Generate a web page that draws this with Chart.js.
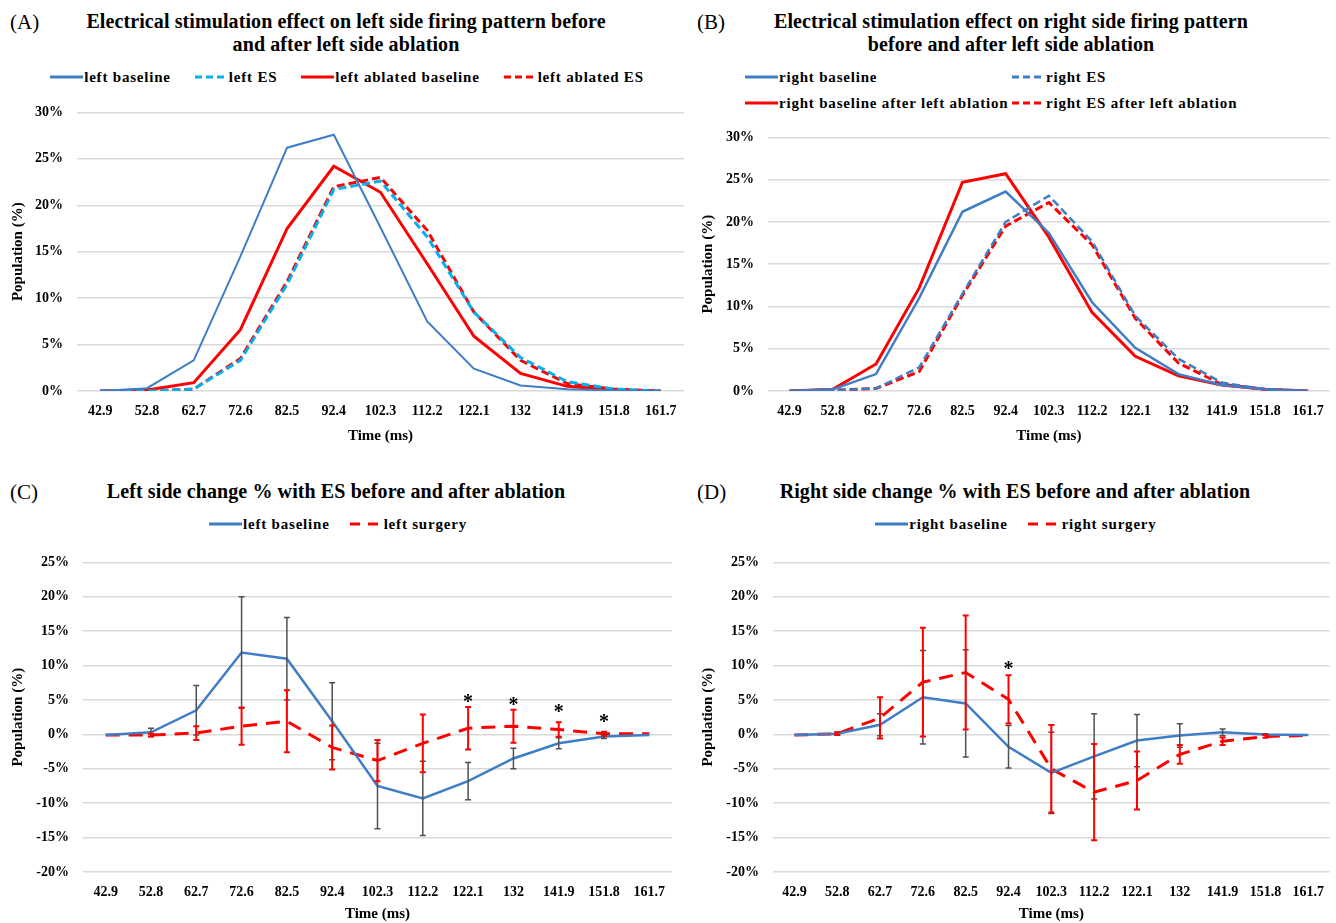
<!DOCTYPE html>
<html><head><meta charset="utf-8">
<script src="https://cdn.jsdelivr.net/npm/chart.js@4/dist/chart.umd.min.js"></script>
<style>
html,body{margin:0;padding:0;background:#fff;}
body{width:1336px;height:923px;position:relative;overflow:hidden;font-family:"Liberation Serif","Times New Roman",serif;color:#000;}
.tag{position:absolute;font-size:21px;line-height:24px;}
.title{position:absolute;font-weight:bold;font-size:20px;letter-spacing:0.1px;line-height:23px;text-align:center;white-space:nowrap;}
.legend{position:absolute;font-weight:bold;font-size:15px;letter-spacing:0.8px;line-height:26px;white-space:nowrap;}
.legend .item{display:inline-flex;align-items:center;}
.legend svg{display:block;margin-right:1px;}
.flexleg{display:flex;justify-content:center;}
.gridleg{display:grid;grid-template-columns:267px auto;}
.box{position:absolute;}
</style>
</head><body>

<div class="tag" style="left:10px;top:10px;">(A)</div>
<div class="title" style="left:46px;top:10px;width:600px;">Electrical stimulation effect on left side firing pattern before<br>and after left side ablation</div>
<div class="legend flexleg" id="legA" style="left:30px;top:64px;width:634px;gap:24px;"></div>
<div class="box" style="left:0;top:90px;width:690px;height:362px;"><canvas id="cA" width="690" height="362"></canvas></div>

<div class="tag" style="left:697px;top:10px;">(B)</div>
<div class="title" style="left:711px;top:10px;width:600px;">Electrical stimulation effect on right side firing pattern<br>before and after left side ablation</div>
<div class="legend gridleg" id="legB" style="left:745px;top:64px;"></div>
<div class="box" style="left:690px;top:115px;width:646px;height:337px;"><canvas id="cB" width="646" height="337"></canvas></div>

<div class="tag" style="left:10px;top:480px;">(C)</div>
<div class="title" style="left:36px;top:480px;width:600px;">Left side change % with ES before and after ablation</div>
<div class="legend flexleg" id="legC" style="left:138px;top:511px;width:400px;gap:20px;"></div>
<div class="box" style="left:0;top:540px;width:690px;height:383px;"><canvas id="cC" width="690" height="383"></canvas></div>

<div class="tag" style="left:697px;top:480px;">(D)</div>
<div class="title" style="left:715px;top:480px;width:600px;">Right side change % with ES before and after ablation</div>
<div class="legend flexleg" id="legD" style="left:816px;top:511px;width:400px;gap:20px;"></div>
<div class="box" style="left:690px;top:540px;width:646px;height:383px;"><canvas id="cD" width="646" height="383"></canvas></div>

<script>
// ---- categories ----
const timeLabels = ['42.9','52.8','62.7','72.6','82.5','92.4','102.3','112.2','122.1','132','141.9','151.8','161.7'];

// ---- Panel A: left side firing pattern (%) ----
const leftBaseline        = [0, 0.3, 3.3, 14.5, 26.2, 27.6, 17.6, 7.5, 2.4, 0.6, 0.2, 0.05, 0];
const leftES              = [0, 0, 0.2, 3.3, 11.5, 21.7, 22.6, 16.6, 8.5, 3.6, 1.0, 0.2, 0];
const leftAblatedBaseline = [0, 0.1, 0.9, 6.6, 17.5, 24.2, 21.4, 13.7, 5.9, 1.9, 0.5, 0.1, 0];
const leftAblatedES       = [0, 0, 0.2, 3.5, 11.8, 22.0, 23.0, 17.3, 8.5, 3.3, 0.8, 0.2, 0];

// ---- Panel B: right side firing pattern (%) ----
const rightBaseline          = [0, 0.2, 2.0, 11.0, 21.2, 23.6, 18.7, 10.5, 5.1, 2.0, 0.7, 0.2, 0];
const rightES                = [0, 0.1, 0.3, 2.8, 11.5, 20.0, 23.1, 17.7, 8.9, 3.8, 1.0, 0.2, 0];
const rightBaselineAfterAbl  = [0, 0.2, 3.2, 12.2, 24.7, 25.7, 18.2, 9.3, 4.1, 1.8, 0.7, 0.2, 0];
const rightESAfterAbl        = [0, 0.1, 0.3, 2.3, 11.3, 19.5, 22.3, 17.3, 8.6, 3.3, 0.8, 0.2, 0];

// ---- Panel C: left side change % with ES ----
const cBaseline     = [-0.1, 0.3, 3.5, 11.9, 11.0, 1.9, -7.5, -9.3, -6.8, -3.5, -1.3, -0.3, -0.1];
const cBaselineErr  = [0, 0.6, 3.6, 8.1, 6.0, 5.6, 6.2, 5.4, 2.7, 1.5, 0.8, 0.3, 0];
const cSurgery      = [-0.1, -0.1, 0.2, 1.2, 1.9, -1.9, -3.8, -1.3, 0.9, 1.2, 0.7, 0.1, 0.1];
const cSurgeryErr   = [0, 0.2, 1.0, 2.7, 4.5, 3.2, 3.0, 4.2, 3.1, 2.4, 1.05, 0.3, 0];
const cSignificance = [null, null, null, null, null, null, null, null, 5.1, 4.7, 3.7, 2.3, null];

// ---- Panel D: right side change % with ES ----
const dBaseline     = [-0.1, 0.1, 1.4, 5.4, 4.5, -1.8, -5.6, -3.2, -0.9, -0.15, 0.3, 0, -0.1];
const dBaselineErr  = [0, 0.2, 1.6, 6.8, 7.8, 3.1, 5.9, 6.2, 3.8, 1.7, 0.5, 0.1, 0];
const dSurgery      = [-0.1, 0.1, 2.4, 7.6, 9.0, 5.1, -5.0, -8.4, -6.7, -2.9, -1.0, -0.3, -0.15];
const dSurgeryErr   = [0, 0.2, 3.0, 7.9, 8.3, 3.5, 6.35, 7.0, 4.2, 1.35, 0.55, 0.2, 0];
const dSignificance = [null, null, null, null, null, 10.0, null, null, null, null, null, null, null];

// ---- colours ----
const BLUE = '#3F7EC6', CYAN = '#00B0F0', RED = '#FF0000', GRID = '#D9D9D9', ERRGREY = '#505050';
const FONT = '"Liberation Serif", "Times New Roman", serif';

const errorBarPlugin = {
  id: 'errorBars',
  afterDatasetsDraw(chart) {
    const {ctx, scales: {x, y}} = chart;
    chart.data.datasets.forEach(ds => {
      if (!ds.errorBars) return;
      ctx.save();
      ctx.strokeStyle = ds.errorColor;
      ctx.lineWidth = ds.errorWidth || 1.5;
      ds.data.forEach((v, i) => {
        const e = ds.errorBars[i];
        if (v == null || !e) return;
        const px = x.getPixelForValue(i);
        const t = y.getPixelForValue(v + e), b = y.getPixelForValue(v - e);
        ctx.beginPath();
        ctx.moveTo(px, t); ctx.lineTo(px, b);
        ctx.moveTo(px - 3, t); ctx.lineTo(px + 3, t);
        ctx.moveTo(px - 3, b); ctx.lineTo(px + 3, b);
        ctx.stroke();
      });
      ctx.restore();
    });
    const sig = chart.options.plugins.significance;
    if (sig && sig.values) {
      ctx.save();
      ctx.fillStyle = '#000';
      ctx.font = 'bold 20px ' + FONT;
      ctx.textAlign = 'center';
      ctx.textBaseline = 'middle';
      sig.values.forEach((v, i) => {
        if (v == null) return;
        ctx.fillText('*', x.getPixelForValue(i), y.getPixelForValue(v) + 4);
      });
      ctx.restore();
    }
  }
};

function makeChart(id, datasets, cfg) {
  const tickFont = {family: FONT, weight: 'bold', size: 14};
  const titleFont = {family: FONT, weight: 'bold', size: 15};
  return new Chart(document.getElementById(id), {
    type: 'line',
    data: {labels: timeLabels, datasets},
    plugins: [errorBarPlugin],
    options: {
      responsive: false,
      animation: false,
      layout: {padding: cfg.padding},
      elements: {point: {radius: 0}, line: {tension: 0}},
      plugins: {legend: {display: false}, title: {display: false}, tooltip: {enabled: false},
                significance: {values: cfg.sig}},
      scales: {
        x: {
          offset: true,
          grid: {display: false, drawTicks: false},
          border: {display: false},
          ticks: {color: '#000', font: tickFont, padding: 12, maxRotation: 0, autoSkip: false},
          title: {display: true, text: 'Time (ms)', color: '#000', font: titleFont, padding: {top: 0, bottom: cfg.xTitlePad}},
          afterFit(s) { s.height = cfg.xHeight; }
        },
        y: {
          min: cfg.min, max: cfg.max,
          grid: {color: GRID, lineWidth: 1.5, drawTicks: false},
          border: {display: false},
          ticks: {color: '#000', font: tickFont, padding: 14, stepSize: 5, callback: v => v + '%'},
          title: {display: true, text: 'Population (%)', color: '#000', font: titleFont, padding: {top: 9, bottom: 0}},
          afterFit(s) { s.width = cfg.yWidth; }
        }
      }
    }
  });
}

function line(label, data, color, width, dash, extra) {
  return Object.assign({label, data, borderColor: color, backgroundColor: color, borderWidth: width,
    borderDash: dash || [], fill: false, pointRadius: 0}, extra || {});
}

function buildLegend(elId, chart, dashFor) {
  const el = document.getElementById(elId);
  chart.data.datasets.forEach(ds => {
    const item = document.createElement('span');
    item.className = 'item';
    const dash = dashFor(ds);
    item.innerHTML = '<svg width="33" height="10"><line x1="0" y1="5" x2="33" y2="5" stroke="' + ds.borderColor +
      '" stroke-width="3" stroke-dasharray="' + dash + '"/></svg><span>' + ds.label + '</span>';
    el.appendChild(item);
  });
}

const chA = makeChart('cA', [
  line('left baseline', leftBaseline, BLUE, 2),
  line('left ES', leftES, CYAN, 3, [8, 4]),
  line('left ablated baseline', leftAblatedBaseline, RED, 3),
  line('left ablated ES', leftAblatedES, RED, 3, [8, 4])
], {padding: {top: 16, right: 6, left: 0, bottom: 0}, yWidth: 77, xHeight: 61, xTitlePad: 7, min: 0, max: 30});

const chB = makeChart('cB', [
  line('right baseline', rightBaseline, BLUE, 2.5),
  line('right ES', rightES, BLUE, 2.5, [8, 4]),
  line('right baseline after left ablation', rightBaselineAfterAbl, RED, 3),
  line('right ES after left ablation', rightESAfterAbl, RED, 3, [8, 4])
], {padding: {top: 15, right: 4, left: 0, bottom: 0}, yWidth: 78, xHeight: 61, xTitlePad: 7, min: 0, max: 30});

const chC = makeChart('cC', [
  line('left baseline', cBaseline, BLUE, 2.5, [], {errorBars: cBaselineErr, errorColor: ERRGREY, errorWidth: 1.5}),
  line('left surgery', cSurgery, RED, 3, [14, 9], {errorBars: cSurgeryErr, errorColor: RED, errorWidth: 2})
], {padding: {top: 13, right: 18, left: 0, bottom: 0}, yWidth: 83, xHeight: 51, xTitlePad: 0, min: -20, max: 25, sig: cSignificance});

const chD = makeChart('cD', [
  line('right baseline', dBaseline, BLUE, 2.5, [], {errorBars: dBaselineErr, errorColor: ERRGREY, errorWidth: 1.5}),
  line('right surgery', dSurgery, RED, 3, [14, 9], {errorBars: dSurgeryErr, errorColor: RED, errorWidth: 2})
], {padding: {top: 13, right: 0, left: 0, bottom: 0}, yWidth: 83, xHeight: 51, xTitlePad: 0, min: -20, max: 25, sig: dSignificance});

buildLegend('legA', chA, ds => ds.borderDash.length ? '7,4' : '');
buildLegend('legB', chB, ds => ds.borderDash.length ? '7,4' : '');
buildLegend('legC', chC, ds => ds.borderDash.length ? '10,8' : '');
buildLegend('legD', chD, ds => ds.borderDash.length ? '10,8' : '');
</script>
</body></html>
